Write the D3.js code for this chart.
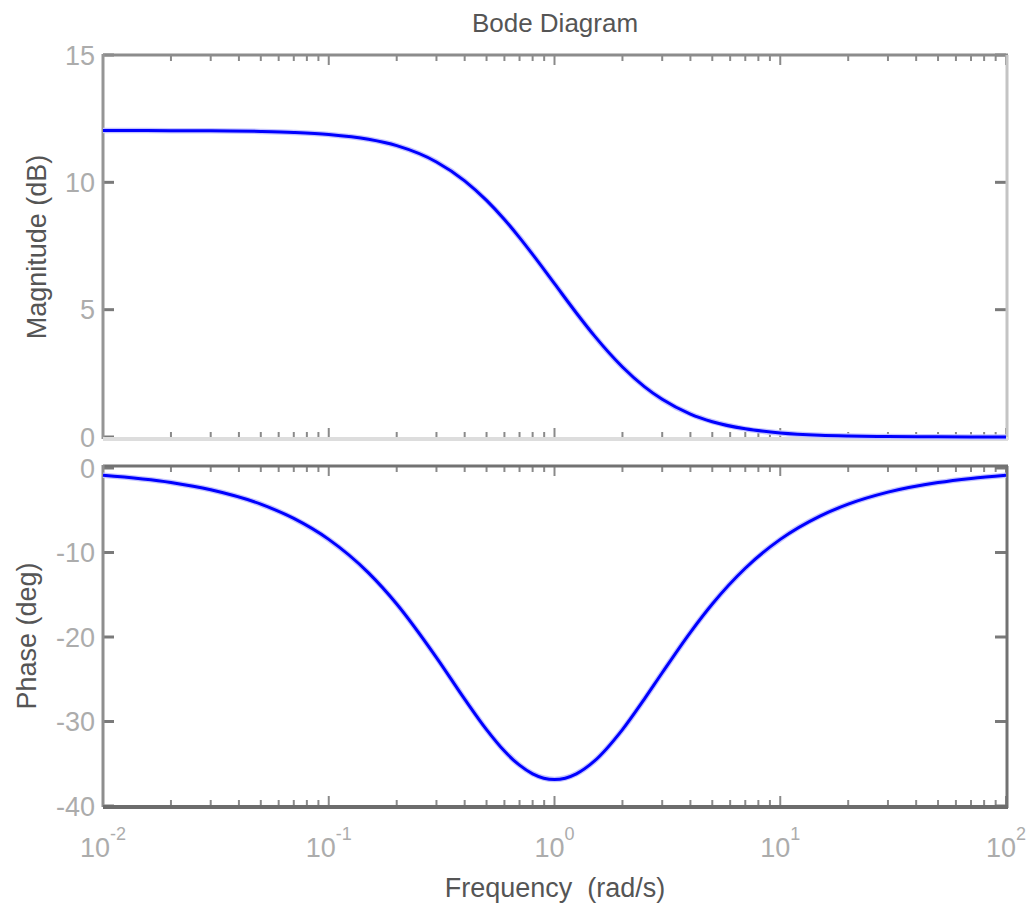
<!DOCTYPE html>
<html><head><meta charset="utf-8">
<script src="https://cdn.jsdelivr.net/npm/d3@7"></script>
<style>body{margin:0;background:#fff}svg{display:block}text{font-family:"Liberation Sans",Arial,sans-serif}</style>
</head><body>
<svg id="c" width="1030" height="906"></svg>
<script>
// Data
const freq = [0.01,0.02,0.03,0.05,0.07,0.1,0.15,0.2,0.3,0.4,0.5,0.6,0.7,0.8,1,1.25,1.5,2,2.5,3,4,5,7,10,15,20,30,50,70,100];
const magDb = [12.04,12.03,12.03,12.00,11.96,11.88,11.69,11.44,10.80,10.06,9.29,8.54,7.83,7.17,6.02,4.87,3.98,2.75,1.98,1.48,0.90,0.60,0.32,0.16,0.07,0.04,0.02,0.01,0.00,0.00];
const phaseDeg = [-0.86,-1.72,-2.58,-4.28,-5.97,-8.45,-12.41,-16.09,-22.43,-27.35,-30.96,-33.50,-35.17,-36.19,-36.87,-36.19,-34.70,-30.96,-27.35,-24.23,-19.44,-16.09,-11.86,-8.45,-5.69,-4.28,-2.86,-1.72,-1.23,-0.86];
const xDecades = [-2,-1,0,1,2];
const magTicks = [0,5,10,15];
const phaseTicks = [0,-10,-20,-30,-40];
const titleText = "Bode Diagram";
const xLabel = "Frequency  (rad/s)";
const magLabel = "Magnitude (dB)";
const phaseLabel = "Phase (deg)";

const svg = d3.select("#c");
const L = 103, R = 1006;
const x = d3.scaleLog().domain([0.01,100]).range([L,R]);
const yM = d3.scaleLinear().domain([0,15]).range([437,55]);
const yP = d3.scaleLinear().domain([-40,0]).range([806,468]);

const minor = [];
for (let d=-2; d<2; d++) for (let k=2;k<=9;k++) minor.push(k*Math.pow(10,d));
const major = xDecades.map(e=>Math.pow(10,e));

function panel(y, ticks, colors, topY, botY) {
  const g = svg.append("g");
  // x ticks top & bottom
  minor.forEach(f=>{
    g.append("line").attr("x1",x(f)).attr("x2",x(f)).attr("y1",topY).attr("y2",topY+6).attr("stroke","#8a8a8a").attr("stroke-width",2);
    g.append("line").attr("x1",x(f)).attr("x2",x(f)).attr("y1",botY).attr("y2",botY-6).attr("stroke","#8a8a8a").attr("stroke-width",2);
  });
  major.forEach(f=>{
    g.append("line").attr("x1",x(f)).attr("x2",x(f)).attr("y1",topY).attr("y2",topY+10).attr("stroke","#8a8a8a").attr("stroke-width",2);
    g.append("line").attr("x1",x(f)).attr("x2",x(f)).attr("y1",botY).attr("y2",botY-10).attr("stroke","#8a8a8a").attr("stroke-width",2);
  });
  ticks.forEach(t=>{
    g.append("line").attr("x1",L).attr("x2",L+11).attr("y1",y(t)).attr("y2",y(t)).attr("stroke","#7a7a7a").attr("stroke-width",3);
    g.append("line").attr("x1",R).attr("x2",R-11).attr("y1",y(t)).attr("y2",y(t)).attr("stroke","#7a7a7a").attr("stroke-width",3);
    g.append("text").attr("x",95).attr("y",y(t)).attr("dy","0.36em").attr("text-anchor","end")
      .attr("font-size",27).attr("fill","#acacac").text(t);
  });
  // box
  g.append("line").attr("x1",L).attr("x2",R+2).attr("y1",topY).attr("y2",topY).attr("stroke",colors[0]).attr("stroke-width",3);
  g.append("line").attr("x1",L).attr("x2",L).attr("y1",topY-1).attr("y2",botY+1).attr("stroke",colors[1]).attr("stroke-width",3);
  g.append("line").attr("x1",R+1).attr("x2",R+1).attr("y1",topY).attr("y2",botY+2).attr("stroke",colors[2]).attr("stroke-width",3);
  g.append("line").attr("x1",L).attr("x2",R+2).attr("y1",botY+1).attr("y2",botY+1).attr("stroke",colors[3]).attr("stroke-width",4);
  return g;
}

panel(yM, magTicks, ["#8c8c8c","#959595","#c4c4c4","#dddddd"], 55, 438);
panel(yP, phaseTicks, ["#727272","#8e8e8e","#727272","#6c6c6c"], 466, 806);

const pts = freq.map((f,i)=>({f, m:magDb[i], p:phaseDeg[i]}));
const lineM = d3.line().x(d=>x(d.f)).y(d=>yM(d.m)).curve(d3.curveMonotoneX);
const lineP = d3.line().x(d=>x(d.f)).y(d=>yP(d.p)).curve(d3.curveMonotoneX);
[lineM, lineP].forEach(ln=>{
  svg.append("path").datum(pts).attr("d",ln).attr("fill","none").attr("stroke","#c4c4ff").attr("stroke-width",5.5);
  svg.append("path").datum(pts).attr("d",ln).attr("fill","none").attr("stroke","#0000ff").attr("stroke-width",3);
});

// x tick labels
xDecades.forEach(e=>{
  const t = svg.append("text").attr("x",x(Math.pow(10,e))).attr("y",857).attr("text-anchor","middle")
    .attr("font-size",27).attr("fill","#acacac");
  t.append("tspan").text("10");
  t.append("tspan").attr("dy",-17).attr("font-size",18).text(String(e).replace("-","-"));
});

svg.append("text").attr("x",555).attr("y",32).attr("text-anchor","middle").attr("font-size",26).attr("fill","#555").text(titleText);
svg.append("text").attr("x",555).attr("y",897).attr("text-anchor","middle").attr("font-size",27).attr("fill","#555").attr("xml:space","preserve").style("white-space","pre").text(xLabel);
svg.append("text").attr("transform","translate(46,247) rotate(-90)").attr("text-anchor","middle").attr("font-size",27).attr("fill","#555").text(magLabel);
svg.append("text").attr("transform","translate(36,636) rotate(-90)").attr("text-anchor","middle").attr("font-size",27).attr("fill","#555").text(phaseLabel);
</script>
</body></html>
